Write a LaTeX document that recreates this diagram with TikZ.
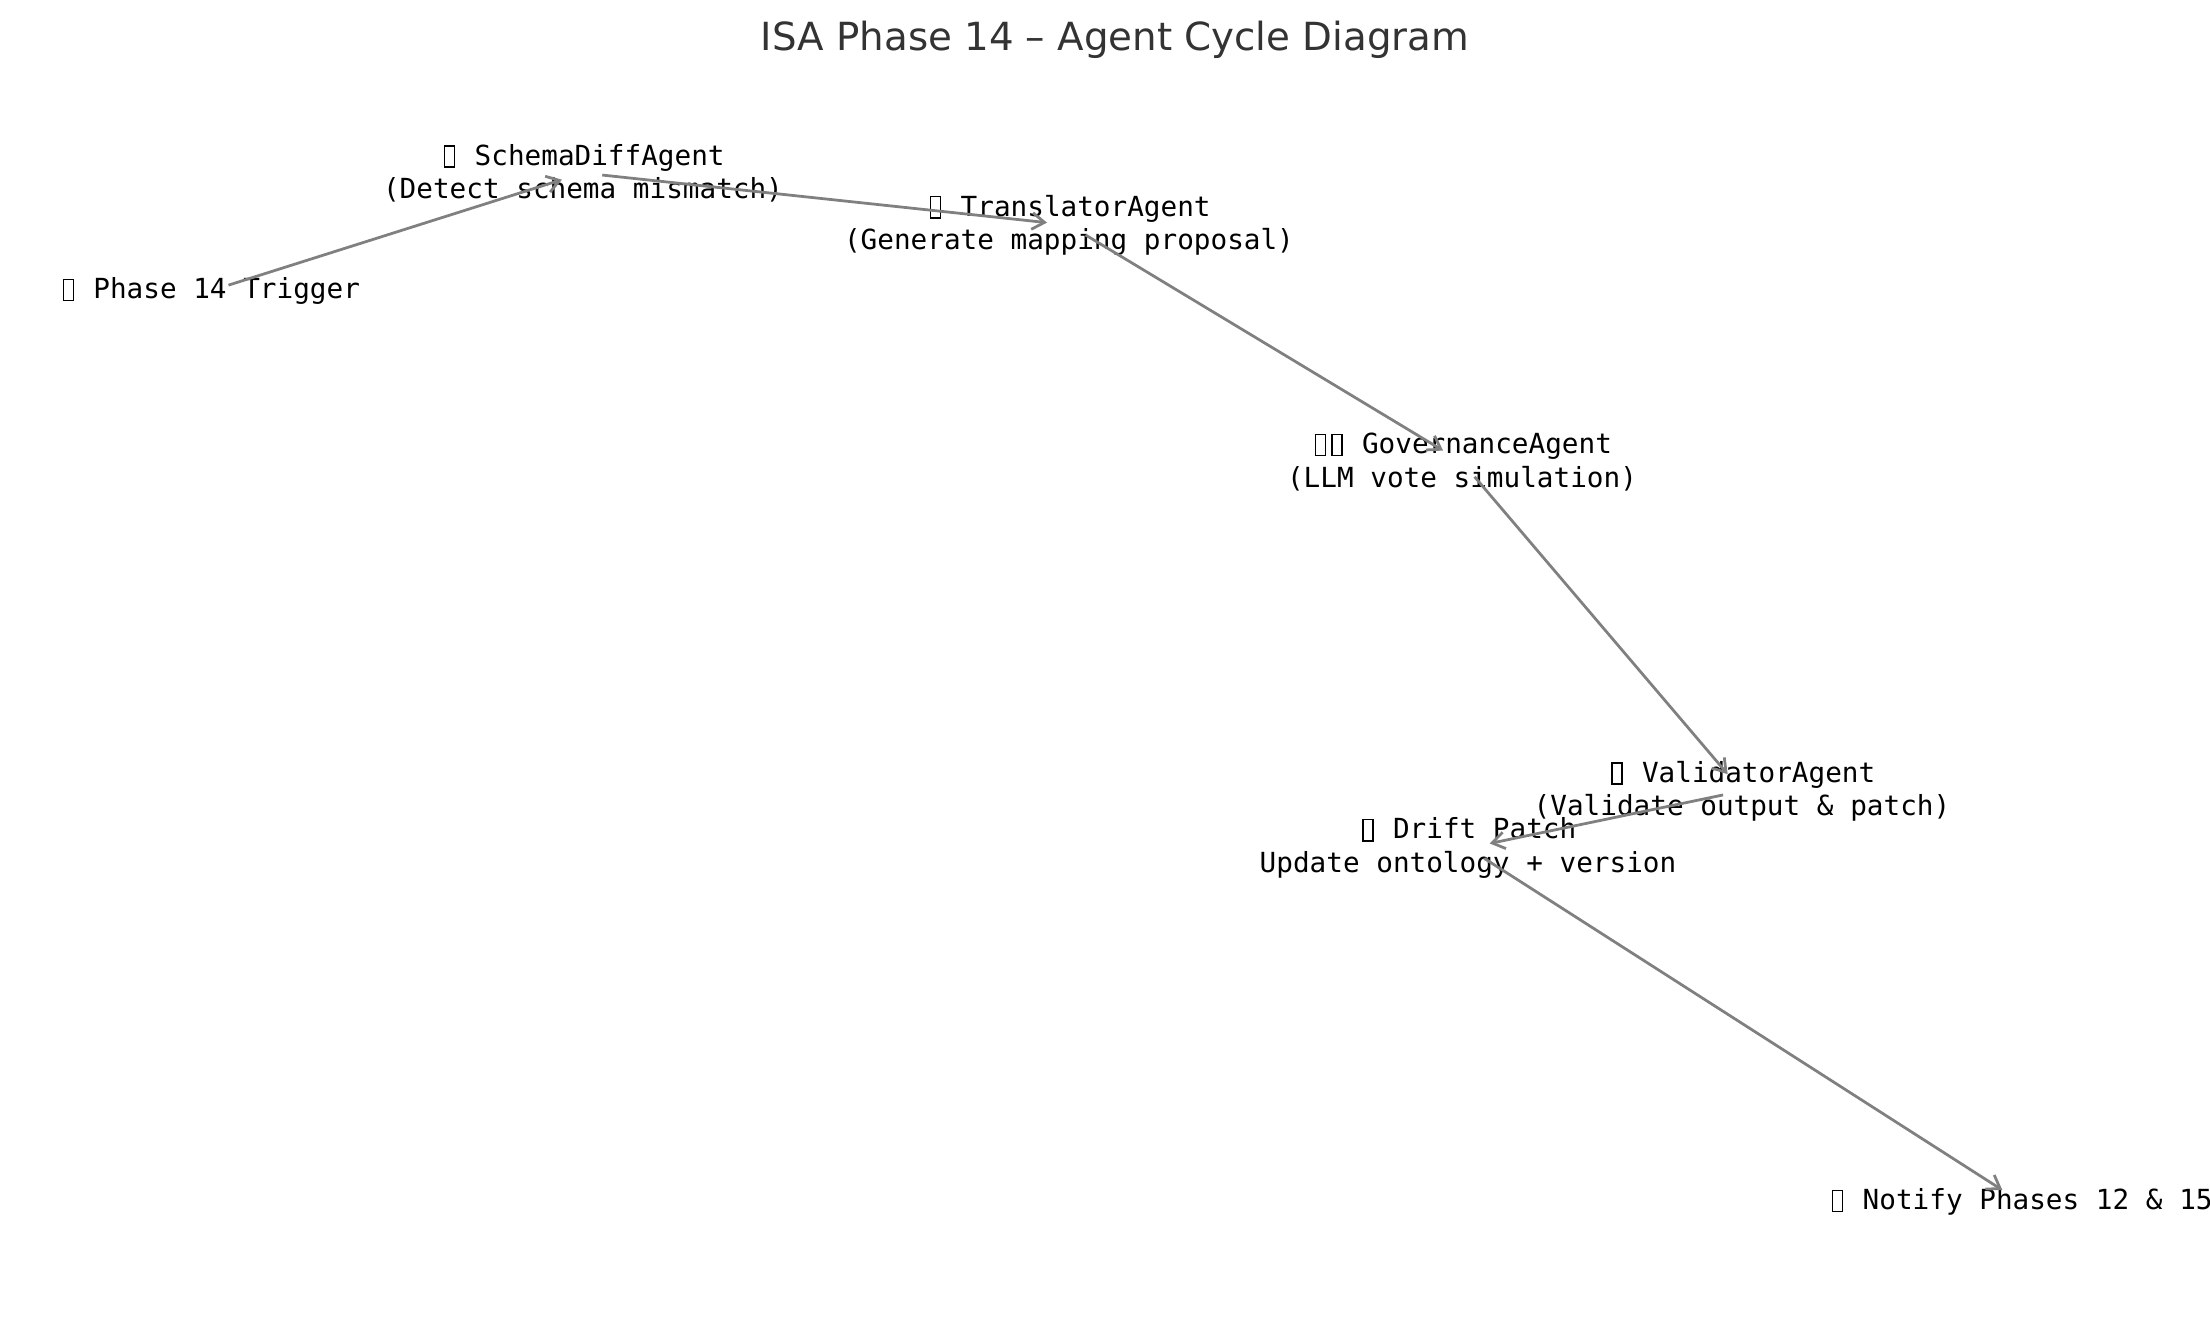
\documentclass[tikz,border=0pt]{standalone}
\usepackage{fontspec}
\setmainfont{DejaVu Sans}
\setmonofont{DejaVu Sans Mono}
\usepackage{xcolor}
\usepackage{tikz}
\usetikzlibrary{arrows.meta}
\definecolor{titlegray}{HTML}{333333}
\definecolor{edgegray}{HTML}{808080}
\tikzstyle{agent} = [font=\ttfamily\fontsize{10}{12}\selectfont,align=center,inner sep=0pt]
\tikzstyle{edge} = [edgegray,line width=1pt,shorten <=7pt,shorten >=8pt,-{Straight Barb[length=4.5pt,width=6pt]}]
% missing glyph box, one mono cell wide
\newcommand{\tofu}{\makebox[0.602em]{\raisebox{-0.05em}{\setlength\fboxsep{0pt}\setlength\fboxrule{0.45pt}\fbox{\rule{0pt}{0.72em}\hspace{0.32em}}}}}

\begin{document}
\begin{tikzpicture}[x=0.36bp,y=-0.36bp]
	\useasboundingbox (0,0) rectangle (2210,1318);
	% Title:
	\node [font=\fontsize{14}{17}\selectfont,text=titlegray] (title) at (1115,40) {ISA Phase 14 – Agent Cycle Diagram};
	
	% Agents:
	\node [agent] (trigger)    at (210,291)   {\tofu{} Phase 14 Trigger};
	\node [agent] (schema)     at (583,173)   {\tofu{} SchemaDiffAgent\\(Detect schema mismatch)};
	\node [agent] (translator) at (1069,225)  {\tofu{} TranslatorAgent\\(Generate mapping proposal)};
	\node [agent] (governance) at (1462,462)  {\tofu\tofu{} GovernanceAgent\\(LLM vote simulation)};
	\node [agent] (validator)  at (1742,791)  {\tofu{} ValidatorAgent\\(Validate output \& patch)};
	\node [agent] (drift)      at (1468,848)  {\tofu{} Drift Patch\\Update ontology + version};
	\node [agent] (notify)     at (2021,1202) {\tofu{} Notify Phases 12 \& 15};
	
	% Cycle edges, centre to centre:
	\draw [edge] (trigger.center)    -- (schema.center);
	\draw [edge] (schema.center)     -- (translator.center);
	\draw [edge] (translator.center) -- (governance.center);
	\draw [edge] (governance.center) -- (validator.center);
	\draw [edge] (validator.center)  -- (drift.center);
	\draw [edge] (drift.center)      -- (notify.center);
\end{tikzpicture}
\end{document}
